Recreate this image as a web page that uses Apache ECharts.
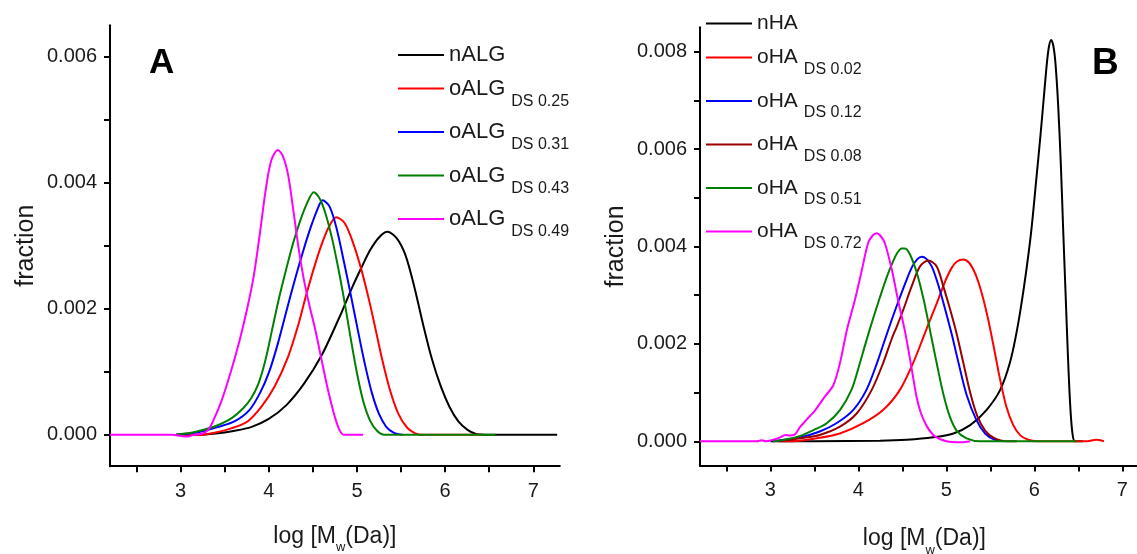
<!DOCTYPE html>
<html>
<head>
<meta charset="utf-8">
<script src="https://cdn.jsdelivr.net/npm/echarts@6/dist/echarts.min.js"></script>
<style>
html,body{margin:0;padding:0;background:#fff;}
#chart{width:1137px;height:554px;}
</style>
</head>
<body>
<div id="chart"></div>
<script>
// ---------- Panel A data: [log Mw, fraction] ----------
const nALG = [[2.95,0],[3.2,0],[3.4,0.00002],[3.6,0.00006],[3.8,0.00012],[4.0,0.00025],[4.2,0.00047],[4.4,0.00081],[4.6,0.00126],[4.8,0.00186],[4.95,0.00235],[5.05,0.00265],[5.15,0.00293],[5.25,0.00313],[5.345,0.00322],[5.45,0.00312],[5.55,0.00285],[5.65,0.00235],[5.75,0.00175],[5.85,0.0012],[5.95,0.00077],[6.05,0.00044],[6.15,0.00021],[6.25,0.00008],[6.35,0.00001],[6.45,0],[7.27,0]];
const oALG025 = [[2.95,0],[3.24,0],[3.385,0.00003],[3.575,0.0001],[3.76,0.00021],[3.915,0.00044],[4.065,0.00076],[4.22,0.00124],[4.33,0.00172],[4.425,0.00222],[4.52,0.00268],[4.61,0.00306],[4.69,0.00332],[4.765,0.00345],[4.86,0.00336],[4.955,0.00305],[5.05,0.00262],[5.14,0.00212],[5.21,0.00168],[5.28,0.00123],[5.37,0.00073],[5.47,0.00033],[5.57,0.00011],[5.66,0.00002],[5.72,0],[6.42,0]];
const oALG031 = [[2.95,0],[3.1,0.00002],[3.235,0.00005],[3.42,0.00012],[3.61,0.00021],[3.78,0.00039],[3.9,0.00066],[4.0,0.00098],[4.1,0.00143],[4.2,0.00196],[4.3,0.00248],[4.4,0.00296],[4.48,0.00331],[4.55,0.00357],[4.61,0.00372],[4.69,0.00362],[4.77,0.00327],[4.85,0.00276],[4.93,0.00222],[5.01,0.00166],[5.09,0.00112],[5.17,0.00066],[5.25,0.00033],[5.33,0.00013],[5.42,0.00003],[5.52,0]];
const oALG043 = [[2.95,0],[3.12,0.00003],[3.235,0.00007],[3.385,0.00013],[3.575,0.00026],[3.71,0.00042],[3.8,0.00058],[3.88,0.0008],[3.96,0.00117],[4.04,0.00168],[4.12,0.00219],[4.2,0.00264],[4.28,0.00306],[4.36,0.00341],[4.43,0.00366],[4.51,0.00385],[4.58,0.00374],[4.65,0.00348],[4.72,0.0031],[4.79,0.00263],[4.86,0.0021],[4.93,0.00152],[5.0,0.00098],[5.07,0.00054],[5.15,0.00022],[5.23,0.00006],[5.31,0],[6.57,0]];
const oALG049 = [[2.2,0],[2.9,0],[3.08,-0.00003],[3.15,0],[3.23,0.00001],[3.31,0.00007],[3.37,0.00022],[3.46,0.00052],[3.57,0.001],[3.67,0.0015],[3.76,0.00203],[3.83,0.00252],[3.9,0.0032],[3.97,0.00393],[4.03,0.00436],[4.104,0.00452],[4.16,0.00442],[4.22,0.00412],[4.28,0.00355],[4.34,0.00295],[4.4,0.00245],[4.46,0.00206],[4.53,0.00165],[4.6,0.00118],[4.67,0.00072],[4.74,0.00033],[4.8,0.00008],[4.85,0],[5.07,0]];

// ---------- Panel B data ----------
const nHA = [[3.0,0],[3.5,0],[4.245,0.00001],[4.55,0.00003],[4.85,0.00008],[5.08,0.00016],[5.27,0.00033],[5.455,0.00064],[5.61,0.00105],[5.72,0.0016],[5.8,0.00226],[5.88,0.00315],[5.96,0.00425],[6.02,0.00535],[6.07,0.0063],[6.11,0.00712],[6.14,0.00773],[6.165,0.0081],[6.19,0.00824],[6.215,0.00812],[6.24,0.00775],[6.27,0.0069],[6.3,0.0057],[6.33,0.0042],[6.355,0.003],[6.38,0.0018],[6.405,0.0008],[6.43,0.0002],[6.46,0],[6.55,0]];
const oHA002 = [[3.1,0],[3.26,0],[3.525,0.00006],[3.79,0.00016],[4.055,0.00037],[4.28,0.00064],[4.47,0.00105],[4.62,0.0016],[4.72,0.00205],[4.79,0.00238],[4.89,0.00283],[4.985,0.00328],[5.06,0.00356],[5.12,0.00369],[5.19,0.00373],[5.26,0.00366],[5.33,0.00343],[5.4,0.00305],[5.47,0.00254],[5.54,0.00192],[5.61,0.00127],[5.68,0.00072],[5.76,0.00033],[5.84,0.00012],[5.93,0.00003],[6.03,0],[6.6,0],[6.7,0.00003],[6.79,0]];
const oHA012 = [[3.03,0],[3.15,0.00003],[3.34,0.00008],[3.56,0.0002],[3.75,0.00037],[3.94,0.00064],[4.09,0.00105],[4.21,0.0016],[4.3,0.00208],[4.38,0.0025],[4.46,0.0029],[4.54,0.00328],[4.61,0.00358],[4.67,0.00374],[4.72,0.00379],[4.77,0.00375],[4.83,0.0036],[4.89,0.00331],[4.965,0.00285],[5.06,0.0022],[5.135,0.00163],[5.23,0.00095],[5.34,0.00044],[5.44,0.00016],[5.54,0.00004],[5.65,0]];
const oHA008 = [[3.11,0],[3.34,0.00006],[3.56,0.00013],[3.79,0.0003],[3.98,0.00057],[4.15,0.00105],[4.28,0.0016],[4.38,0.00211],[4.435,0.00235],[4.51,0.0027],[4.605,0.00318],[4.7,0.00359],[4.795,0.00371],[4.89,0.00359],[4.965,0.00318],[5.04,0.00272],[5.115,0.00222],[5.19,0.00163],[5.27,0.001],[5.35,0.00052],[5.44,0.00022],[5.54,0.00007],[5.685,0],[5.8,0]];
const oHA051 = [[3.03,0],[3.185,0.00004],[3.34,0.00011],[3.49,0.00023],[3.64,0.00037],[3.79,0.00064],[3.92,0.00105],[4.0,0.0015],[4.08,0.002],[4.16,0.00248],[4.24,0.00293],[4.32,0.00336],[4.4,0.00372],[4.45,0.00389],[4.49,0.00396],[4.53,0.00396],[4.585,0.00384],[4.66,0.00348],[4.74,0.00292],[4.82,0.00222],[4.89,0.0016],[4.965,0.00097],[5.04,0.0005],[5.12,0.00021],[5.23,0.00006],[5.38,0],[6.48,0]];
const oHA072 = [[2.2,0],[2.85,0],[2.9,0.00002],[2.95,0],[3.03,0.00003],[3.11,0.00008],[3.17,0.00013],[3.22,0.00012],[3.27,0.00013],[3.34,0.0003],[3.41,0.00044],[3.51,0.00064],[3.62,0.00092],[3.715,0.00115],[3.79,0.0016],[3.87,0.00229],[3.96,0.0029],[4.04,0.00352],[4.11,0.00407],[4.16,0.00422],[4.208,0.00427],[4.25,0.00422],[4.3,0.00407],[4.38,0.00352],[4.45,0.0029],[4.53,0.00225],[4.595,0.0016],[4.66,0.00092],[4.71,0.00058],[4.78,0.0003],[4.87,0.0001],[5.0,0],[5.17,-0.00002],[5.27,0]];

// ---------- names, colours, ticks ----------
const namesA = ['nALG','oALG DS 0.25','oALG DS 0.31','oALG DS 0.43','oALG DS 0.49'];
const dataA = [nALG, oALG025, oALG031, oALG043, oALG049];
const colorsA = ['#000000','#ff0000','#0000ff','#008000','#ff00ff'];
const namesB = ['nHA','oHA DS 0.02','oHA DS 0.12','oHA DS 0.08','oHA DS 0.51','oHA DS 0.72'];
const dataB = [nHA, oHA002, oHA012, oHA008, oHA051, oHA072];
const colorsB = ['#000000','#ff0000','#0000ff','#990000','#008000','#ff00ff'];

const xTickLabels = [3,4,5,6,7];
const xTicks = [2.5,3,3.5,4,4.5,5,5.5,6,6.5,7];
const yLabelsA = [0,0.002,0.004,0.006];
const yTicksA = [0,0.001,0.002,0.003,0.004,0.005,0.006];
const yLabelsB = [0,0.002,0.004,0.006,0.008];
const yTicksB = [0,0.001,0.002,0.003,0.004,0.005,0.006,0.007,0.008];

const FONT = "'Liberation Sans',Arial,sans-serif";
const TXT = '#1a1a1a';

function xAxisCfg(grid, nameGap){
  return {
    type:'value', gridIndex:grid, min:2.2, max:7.3,
    name:'{m|log [M}{s|w}{m|(Da)]}', nameLocation:'middle', nameGap:nameGap,
    nameTextStyle:{color:TXT, fontFamily:FONT, fontSize:23,
      rich:{m:{fontFamily:FONT,fontSize:23,color:TXT}, s:{fontFamily:FONT,fontSize:13,color:TXT,padding:[22,0,0,0]}}},
    axisLine:{onZero:false, lineStyle:{color:'#000', width:2}},
    axisTick:{show:true, inside:false, length:6, lineStyle:{color:'#000', width:2}, customValues:xTicks},
    axisLabel:{customValues:xTickLabels, margin:15, color:TXT, fontFamily:FONT, fontSize:20},
    splitLine:{show:false}
  };
}
function yAxisCfg(grid, min, max, ticks, labels){
  return {
    type:'value', gridIndex:grid, min:min, max:max,
    name:'fraction', nameLocation:'middle', nameGap:71, nameRotate:90,
    nameTextStyle:{color:TXT, fontFamily:FONT, fontSize:25},
    axisLine:{onZero:false, lineStyle:{color:'#000', width:2}},
    axisTick:{show:true, inside:false, length:6, lineStyle:{color:'#000', width:2}, customValues:ticks},
    axisLabel:{customValues:labels, margin:13, color:TXT, fontFamily:FONT, fontSize:20,
      formatter:function(v){return v.toFixed(3);}},
    splitLine:{show:false}
  };
}
function legendFmt(name){
  const i = name.indexOf(' DS ');
  if (i < 0) return '{m|' + name + '}';
  return '{m|' + name.slice(0,i) + '}{s|' + name.slice(i+1) + '}';
}
function legendCfg(names, left, top, mainSize, subPad, gap){
  return {
    data:names, orient:'vertical', left:left, top:top, padding:0, itemGap:gap,
    icon:'rect', itemWidth:46, itemHeight:2,
    formatter:legendFmt,
    textStyle:{color:TXT, fontFamily:FONT, fontSize:mainSize,
      rich:{m:{fontFamily:FONT,fontSize:mainSize,color:TXT},
            s:{fontFamily:FONT,fontSize:16,color:TXT,padding:[subPad,0,0,6]}}},
    selectedMode:false
  };
}

const series = [];
namesA.forEach(function(n,i){
  series.push({type:'line', name:n, xAxisIndex:0, yAxisIndex:0, data:dataA[i], color:colorsA[i],
    showSymbol:false, symbol:'none', smooth:0.3, lineStyle:{width:2, color:colorsA[i]}});
});
namesB.forEach(function(n,i){
  series.push({type:'line', name:n, xAxisIndex:1, yAxisIndex:1, data:dataB[i], color:colorsB[i],
    showSymbol:false, symbol:'none', smooth:0.3, lineStyle:{width:2, color:colorsB[i]}});
});

const chart = echarts.init(document.getElementById('chart'));
chart.setOption({
  animation:false,
  backgroundColor:'#fff',
  title:[
    {text:'A', left:149, top:46, padding:0, textStyle:{fontFamily:FONT, fontWeight:'bold', fontSize:35, color:'#000'}},
    {text:'B', left:1092, top:45, padding:0, textStyle:{fontFamily:FONT, fontWeight:'bold', fontSize:37, color:'#000'}}
  ],
  grid:[
    {left:110, top:25.2, width:449.8, height:441, outerBoundsMode:'none', containLabel:false},
    {left:700, top:27.3, width:448.8, height:438.3, outerBoundsMode:'none', containLabel:false}
  ],
  legend:[
    legendCfg(namesA, 398, 44, 22, 26, 11.5),
    legendCfg(namesB, 706, 13, 21, 24, 13)
  ],
  xAxis:[xAxisCfg(0,53), xAxisCfg(1,56)],
  yAxis:[yAxisCfg(0,-0.0005,0.0065,yTicksA,yLabelsA), yAxisCfg(1,-0.0005,0.0085,yTicksB,yLabelsB)],
  series:series
});
</script>
</body>
</html>
